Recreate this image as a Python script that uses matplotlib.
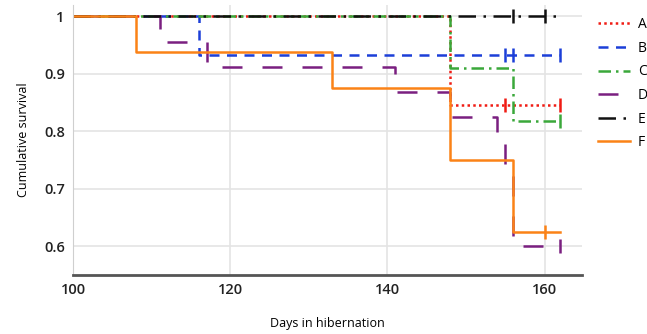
import numpy as np
import matplotlib
matplotlib.use("Agg")
import matplotlib.pyplot as plt

plt.rcParams['font.family'] = ['Open Sans', 'DejaVu Sans']

# Kaplan-Meier step data (day, cumulative survival) per group
groups = ["A", "B", "C", "D", "E", "F"]
times = {
    "A": [100, 148, 162],
    "B": [100, 116, 162],
    "C": [100, 148, 156, 162],
    "D": [100, 111, 117, 141, 148, 154, 155, 156, 162],
    "E": [100, 162],
    "F": [100, 108, 133, 148, 156, 162],
}
surv = {
    "A": [1, 0.845, 0.845],
    "B": [1, 0.933, 0.933],
    "C": [1, 0.91, 0.818, 0.818],
    "D": [1, 0.955, 0.912, 0.868, 0.825, 0.78, 0.74, 0.60, 0.60],
    "E": [1, 1],
    "F": [1, 0.9375, 0.875, 0.75, 0.625, 0.625],
}
censored = {
    "A": [155, 162],
    "B": [155, 156, 162],
    "C": [162],
    "D": [162],
    "E": [156, 160],
    "F": [160],
}

colors = {"A": "#f01c14", "B": "#1c3fd8", "C": "#3aa83a",
          "D": "#7a1f80", "E": "#111111", "F": "#fb8217"}
styles = {"A": (0, (1, 1.3)), "B": (0, (4, 3)), "C": (0, (5, 2, 1, 2)),
          "D": (0, (8, 8)), "E": (0, (7, 3, 1, 3)), "F": "-"}

fig = plt.figure(figsize=(6.47, 3.34), dpi=100)
ax = fig.add_axes([0.113, 0.177, 0.787, 0.808])

for g in groups:
    ax.step(times[g], surv[g], where="post", color=colors[g],
            linestyle=styles[g], linewidth=1.8, label=g)
    t = np.array(times[g])
    s = np.array(surv[g])
    idx = np.searchsorted(t, censored[g], side="right") - 1
    ax.plot(censored[g], s[idx], linestyle="none", marker="|",
            markersize=10, markeredgewidth=1.8, color=colors[g])

ax.set_xlim(100, 164.8)
ax.set_ylim(0.55, 1.02)
ax.set_xticks([100, 120, 140, 160])
ax.set_yticks([0.6, 0.7, 0.8, 0.9, 1.0])
ax.set_yticklabels(["0.6", "0.7", "0.8", "0.9", "1"])
ax.grid(True, color="#e4e4e4", linewidth=1.2)
ax.set_axisbelow(True)

for side in ("top", "right"):
    ax.spines[side].set_visible(False)
ax.spines["left"].set_color("#cfcfcf")
ax.spines["bottom"].set_color("#555555")
ax.spines["bottom"].set_linewidth(2)
ax.tick_params(length=0, labelsize=10.5, pad=6)
for lbl in ax.get_xticklabels() + ax.get_yticklabels():
    lbl.set_fontweight("semibold")
    lbl.set_color("#222222")

ax.set_xlabel("Days in hibernation", fontsize=9, labelpad=14)
ax.set_ylabel("Cumulative survival", fontsize=9, labelpad=10)

fig.legend(loc="upper left", bbox_to_anchor=(0.915, 0.965), frameon=False,
           fontsize=10, handlelength=2.3, labelspacing=0.62, handletextpad=0.6,
           borderaxespad=0)

fig.savefig("out.png", dpi=100)
